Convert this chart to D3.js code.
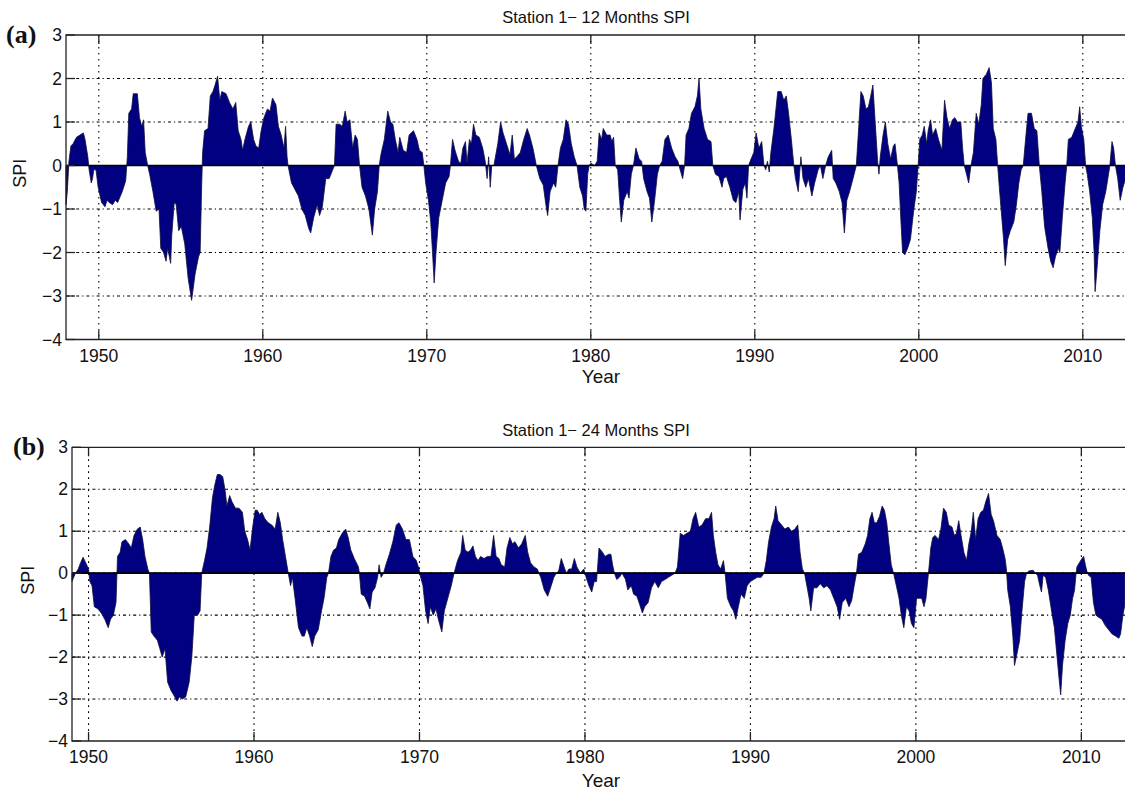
<!DOCTYPE html>
<html>
<head>
<meta charset="utf-8">
<script src="https://cdn.jsdelivr.net/npm/d3@7"></script>
<style>
  body { margin: 0; background: #fff; }
  svg { display: block; }
</style>
</head>
<body>
<svg id="chart" width="1125" height="790"></svg>
<script>
// Axis ticks shared by both panels
const yearTicks = [1950, 1960, 1970, 1980, 1990, 2000, 2010];
const spiTicks = [-4, -3, -2, -1, 0, 1, 2, 3];

// Station 1, 12-month SPI (decimal year, SPI value)
const spi12Year = [
  1948.00,1948.08,1948.18,1948.30,1948.43,1948.64,1948.85,1949.06,1949.16,1949.33,
  1949.41,1949.54,1949.62,1949.69,1949.83,1949.96,1950.17,1950.38,1950.50,1950.63,
  1950.84,1951.00,1951.15,1951.43,1951.64,1951.74,1951.83,1952.00,1952.10,1952.35,
  1952.48,1952.62,1952.73,1952.83,1952.98,1953.10,1953.30,1953.50,1953.67,1953.78,
  1953.95,1954.10,1954.20,1954.38,1954.45,1954.60,1954.72,1954.87,1955.03,1955.24,
  1955.45,1955.66,1955.87,1956.08,1956.18,1956.27,1956.33,1956.45,1956.66,1956.80,
  1956.96,1957.09,1957.24,1957.38,1957.50,1957.76,1957.97,1958.18,1958.35,1958.50,
  1958.67,1958.77,1958.91,1959.13,1959.27,1959.44,1959.58,1959.75,1959.90,1960.07,
  1960.28,1960.44,1960.59,1960.80,1960.95,1961.12,1961.29,1961.39,1961.48,1961.54,
  1961.75,1961.96,1962.17,1962.38,1962.59,1962.80,1962.92,1963.10,1963.32,1963.46,
  1963.63,1963.84,1964.05,1964.26,1964.37,1964.47,1964.68,1964.85,1965.02,1965.14,
  1965.31,1965.48,1965.63,1965.77,1965.90,1966.05,1966.26,1966.47,1966.68,1966.82,
  1966.99,1967.10,1967.20,1967.41,1967.62,1967.79,1967.93,1968.08,1968.25,1968.35,
  1968.56,1968.77,1968.92,1969.19,1969.40,1969.55,1969.72,1969.82,1969.93,1970.10,
  1970.24,1970.35,1970.45,1970.56,1970.73,1970.94,1971.15,1971.36,1971.44,1971.57,
  1971.72,1971.93,1972.07,1972.20,1972.36,1972.45,1972.60,1972.72,1972.85,1972.99,
  1973.20,1973.41,1973.56,1973.68,1973.77,1973.87,1973.96,1974.09,1974.33,1974.50,
  1974.65,1974.86,1975.07,1975.21,1975.34,1975.49,1975.70,1975.91,1976.12,1976.26,
  1976.47,1976.68,1976.89,1977.10,1977.26,1977.37,1977.52,1977.73,1977.86,1978.00,
  1978.15,1978.32,1978.49,1978.64,1978.81,1978.99,1979.16,1979.33,1979.50,1979.60,
  1979.70,1979.81,1979.90,1980.00,1980.24,1980.39,1980.51,1980.66,1980.76,1980.97,
  1981.18,1981.28,1981.39,1981.49,1981.64,1981.76,1981.86,1982.01,1982.22,1982.33,
  1982.47,1982.60,1982.75,1982.95,1983.10,1983.22,1983.43,1983.58,1983.72,1983.89,
  1984.06,1984.20,1984.35,1984.52,1984.72,1984.93,1985.14,1985.31,1985.45,1985.60,
  1985.72,1985.81,1985.98,1986.14,1986.35,1986.50,1986.60,1986.71,1986.91,1987.12,
  1987.33,1987.44,1987.60,1987.81,1988.00,1988.10,1988.27,1988.48,1988.69,1988.85,
  1989.02,1989.10,1989.27,1989.42,1989.52,1989.62,1989.77,1989.94,1990.08,1990.25,
  1990.42,1990.56,1990.67,1990.77,1990.88,1990.98,1991.15,1991.29,1991.40,1991.61,
  1991.77,1991.92,1992.06,1992.23,1992.38,1992.48,1992.65,1992.81,1992.94,1993.11,
  1993.27,1993.48,1993.65,1993.86,1994.00,1994.15,1994.32,1994.48,1994.69,1994.78,
  1994.94,1995.15,1995.32,1995.46,1995.61,1995.78,1995.99,1996.19,1996.34,1996.47,
  1996.61,1996.78,1996.93,1997.07,1997.20,1997.34,1997.49,1997.57,1997.65,1997.82,
  1997.96,1998.11,1998.28,1998.45,1998.55,1998.70,1998.80,1998.90,1999.01,1999.15,
  1999.32,1999.49,1999.70,1999.85,1999.96,2000.06,2000.21,2000.33,2000.48,2000.57,
  2000.72,2000.84,2001.03,2001.20,2001.41,2001.57,2001.72,2001.88,2002.05,2002.20,
  2002.35,2002.56,2002.67,2002.77,2002.91,2003.04,2003.18,2003.33,2003.50,2003.66,
  2003.81,2003.91,2004.12,2004.29,2004.43,2004.54,2004.70,2004.81,2004.91,2005.06,
  2005.17,2005.27,2005.42,2005.58,2005.79,2005.95,2006.10,2006.24,2006.37,2006.51,
  2006.66,2006.87,2007.04,2007.20,2007.35,2007.50,2007.67,2007.88,2008.04,2008.19,
  2008.33,2008.50,2008.60,2008.75,2008.92,2009.02,2009.12,2009.33,2009.54,2009.71,
  2009.81,2009.91,2010.06,2010.17,2010.27,2010.42,2010.58,2010.69,2010.75,2010.82,
  2010.90,2011.04,2011.21,2011.40,2011.57,2011.65,2011.78,2011.88,2011.99,2012.13,
  2012.28,2012.45,2012.61,2012.75
];
const spi12Value = [
  -0.9,-0.6,0.1,0.45,0.5,0.65,0.7,0.75,0.6,0.2,
  -0.1,-0.4,-0.3,-0.1,-0.1,-0.5,-0.85,-0.95,-0.8,-0.85,
  -0.9,-0.8,-0.85,-0.6,-0.35,0.2,1.2,1.3,1.65,1.65,
  1.1,0.9,1.05,0.3,0.0,-0.2,-0.6,-1.05,-1.0,-1.9,
  -2.0,-2.2,-1.9,-2.25,-1.6,-0.85,-0.9,-1.5,-1.4,-1.8,
  -2.6,-3.1,-2.5,-2.1,-2.0,-0.5,0.3,0.8,0.85,1.6,
  1.7,1.85,2.05,1.5,1.7,1.65,1.45,1.3,1.45,0.8,
  0.6,0.35,0.6,0.9,1.0,0.6,0.45,0.4,0.8,1.1,
  1.3,1.25,1.55,1.4,0.9,0.7,0.4,0.9,0.2,0.0,
  -0.4,-0.55,-0.7,-1.0,-1.15,-1.45,-1.55,-1.2,-0.9,-1.15,
  -0.95,-0.3,-0.3,-0.1,0.0,0.95,0.95,0.9,1.25,1.0,
  1.05,0.4,0.7,0.6,0.0,-0.5,-0.7,-1.0,-1.6,-1.0,
  -0.6,0.0,0.25,0.6,1.25,1.0,0.95,0.6,0.3,0.65,
  0.35,0.3,0.7,0.8,0.6,0.35,0.3,0.0,-0.4,-0.8,
  -1.3,-2.0,-2.7,-2.0,-1.2,-0.8,-0.4,-0.25,0.0,0.6,
  0.35,0.1,0.05,0.4,0.55,0.05,0.6,0.5,0.95,0.7,
  0.65,0.4,0.1,-0.3,0.2,-0.5,0.0,0.0,0.5,1.0,
  0.75,0.5,0.25,0.7,0.15,0.2,0.3,0.6,0.85,0.7,
  0.4,0.0,-0.3,-0.45,-0.9,-1.15,-0.6,-0.4,-0.5,0.0,
  0.4,0.6,1.05,0.95,0.5,0.2,0.0,-0.5,-0.7,-1.0,
  -1.05,-0.2,0.0,0.05,0.0,0.1,0.75,0.6,0.85,0.7,
  0.7,0.55,0.65,0.0,-0.1,-0.8,-1.3,-0.8,-0.6,-0.75,
  -0.2,0.0,0.4,0.15,0.1,-0.3,-0.6,-0.75,-1.3,-0.8,
  -0.2,0.0,0.1,0.6,0.7,0.4,0.2,0.1,-0.1,-0.3,
  0.0,0.7,0.85,1.2,1.35,1.6,2.0,1.3,0.85,0.6,
  0.55,0.0,-0.2,-0.25,-0.5,-0.3,-0.25,-0.5,-0.8,-0.85,
  -0.6,-1.25,-0.55,-0.4,-0.75,0.0,0.15,0.3,0.75,0.4,
  0.55,0.0,-0.1,0.1,-0.15,0.3,0.8,1.3,1.7,1.7,
  1.5,1.6,1.2,0.6,0.0,-0.3,-0.6,0.2,-0.3,-0.5,
  -0.3,-0.7,-0.4,-0.1,0.0,-0.3,0.0,0.2,0.35,-0.3,
  -0.4,-0.6,-0.85,-1.55,-0.8,-0.6,-0.3,0.0,0.9,1.7,
  1.6,1.3,1.35,1.6,1.85,1.0,0.1,-0.2,0.2,0.7,
  1.0,0.5,0.15,0.45,0.5,0.0,-0.4,-1.2,-2.0,-2.05,
  -1.9,-1.7,-1.0,-0.6,0.0,0.6,0.7,0.9,0.5,0.8,
  1.05,0.7,0.85,0.6,0.35,1.5,1.1,0.85,1.05,1.1,
  1.0,1.0,0.4,0.0,-0.2,-0.4,0.0,0.3,1.2,0.95,
  1.4,2.0,2.1,2.25,1.9,0.85,0.6,0.0,-0.5,-1.2,
  -1.7,-2.3,-1.7,-1.5,-1.3,-0.9,-0.4,-0.1,0.0,0.6,
  1.2,1.2,0.85,0.8,0.0,-0.6,-1.4,-1.9,-2.2,-2.35,
  -2.1,-1.9,-2.0,-1.2,-0.4,0.0,0.6,0.65,0.85,1.0,
  1.35,0.9,0.6,0.0,-0.2,-0.6,-1.2,-2.0,-2.9,-2.6,
  -2.2,-1.5,-0.9,-0.6,-0.2,0.0,0.55,0.4,0.0,-0.3,
  -0.8,-0.5,-0.3,-0.6
];

// Station 1, 24-month SPI (decimal year, SPI value)
const spi24Year = [
  1949.00,1949.10,1949.21,1949.38,1949.52,1949.67,1949.83,1950.00,1950.08,1950.21,
  1950.35,1950.56,1950.77,1950.98,1951.19,1951.33,1951.50,1951.66,1951.75,1951.91,
  1952.02,1952.23,1952.43,1952.58,1952.75,1952.95,1953.12,1953.27,1953.41,1953.58,
  1953.68,1953.79,1953.95,1954.16,1954.31,1954.45,1954.62,1954.78,1954.99,1955.14,
  1955.35,1955.49,1955.66,1955.87,1956.08,1956.24,1956.39,1956.59,1956.74,1956.84,
  1957.01,1957.16,1957.32,1957.49,1957.63,1957.78,1957.95,1958.11,1958.26,1958.36,
  1958.53,1958.67,1958.88,1959.09,1959.30,1959.44,1959.61,1959.76,1959.92,1960.07,
  1960.19,1960.34,1960.48,1960.65,1960.86,1961.07,1961.28,1961.44,1961.59,1961.73,
  1961.90,1962.07,1962.21,1962.32,1962.48,1962.69,1962.90,1963.04,1963.19,1963.36,
  1963.52,1963.67,1963.88,1964.08,1964.23,1964.40,1964.50,1964.65,1964.81,1964.98,
  1965.12,1965.33,1965.54,1965.69,1965.85,1966.06,1966.31,1966.37,1966.48,1966.68,
  1966.85,1967.00,1967.14,1967.31,1967.47,1967.56,1967.68,1967.83,1967.97,1968.18,
  1968.39,1968.60,1968.76,1968.97,1969.18,1969.39,1969.60,1969.81,1969.97,1970.04,
  1970.21,1970.37,1970.52,1970.66,1970.83,1971.00,1971.14,1971.35,1971.50,1971.71,
  1971.92,1972.09,1972.30,1972.51,1972.61,1972.76,1972.93,1973.09,1973.23,1973.38,
  1973.54,1973.69,1973.90,1974.11,1974.32,1974.48,1974.63,1974.80,1974.94,1975.15,
  1975.29,1975.46,1975.62,1975.77,1975.98,1976.18,1976.39,1976.54,1976.71,1976.92,
  1977.12,1977.22,1977.33,1977.54,1977.75,1977.96,1978.12,1978.27,1978.41,1978.57,
  1978.74,1978.88,1979.03,1979.20,1979.36,1979.51,1979.72,1979.93,1980.07,1980.24,
  1980.41,1980.56,1980.70,1980.85,1981.06,1981.22,1981.43,1981.57,1981.67,1981.78,
  1981.92,1982.08,1982.24,1982.45,1982.59,1982.80,1982.94,1983.14,1983.31,1983.47,
  1983.61,1983.82,1984.02,1984.22,1984.43,1984.63,1984.84,1985.04,1985.24,1985.45,
  1985.59,1985.76,1985.96,1986.16,1986.37,1986.53,1986.69,1986.88,1987.08,1987.29,
  1987.49,1987.65,1987.76,1987.90,1988.04,1988.20,1988.37,1988.47,1988.61,1988.82,
  1988.98,1989.12,1989.27,1989.43,1989.63,1989.80,1990.00,1990.20,1990.41,1990.65,
  1990.82,1990.96,1991.10,1991.27,1991.43,1991.53,1991.67,1991.88,1992.08,1992.29,
  1992.49,1992.69,1992.86,1993.00,1993.14,1993.27,1993.41,1993.55,1993.65,1993.82,
  1994.02,1994.22,1994.43,1994.63,1994.84,1995.04,1995.24,1995.39,1995.55,1995.76,
  1995.96,1996.12,1996.27,1996.41,1996.53,1996.73,1996.94,1997.08,1997.22,1997.35,
  1997.49,1997.63,1997.80,1997.96,1998.10,1998.24,1998.37,1998.51,1998.65,1998.82,
  1998.98,1999.12,1999.27,1999.43,1999.59,1999.73,1999.88,2000.04,2000.20,2000.35,
  2000.49,2000.61,2000.76,2000.90,2001.02,2001.16,2001.37,2001.51,2001.67,2001.84,
  2001.98,2002.18,2002.33,2002.45,2002.59,2002.73,2002.90,2003.06,2003.20,2003.35,
  2003.47,2003.61,2003.76,2003.92,2004.08,2004.22,2004.39,2004.55,2004.69,2004.90,
  2005.10,2005.24,2005.39,2005.47,2005.55,2005.71,2005.86,2005.96,2006.12,2006.27,
  2006.41,2006.57,2006.69,2006.82,2007.08,2007.22,2007.35,2007.49,2007.59,2007.69,
  2007.84,2008.00,2008.20,2008.37,2008.51,2008.65,2008.75,2008.86,2009.02,2009.18,
  2009.33,2009.47,2009.59,2009.67,2009.73,2009.88,2010.04,2010.14,2010.24,2010.33,
  2010.43,2010.59,2010.73,2010.88,2011.04,2011.24,2011.45,2011.65,2011.86,2012.06,
  2012.27,2012.37,2012.51,2012.63
];
const spi24Value = [
  -0.2,-0.1,0.0,0.1,0.25,0.38,0.25,0.1,-0.2,-0.3,
  -0.8,-0.85,-0.95,-1.1,-1.3,-1.1,-1.0,-0.7,0.4,0.5,
  0.75,0.8,0.7,0.6,0.9,1.05,1.1,0.8,0.4,0.1,
  0.0,-1.4,-1.5,-1.6,-1.8,-2.0,-1.8,-2.6,-2.8,-2.9,
  -3.05,-2.95,-3.0,-2.95,-2.6,-2.0,-1.0,-1.0,-0.9,0.0,
  0.3,0.6,1.1,1.8,2.1,2.35,2.35,2.3,1.95,1.6,
  1.85,1.7,1.55,1.55,1.45,1.0,0.8,0.55,1.1,1.5,
  1.5,1.4,1.45,1.3,1.2,1.15,1.05,1.45,1.2,0.8,
  0.4,0.0,-0.3,-0.1,-0.6,-1.3,-1.5,-1.5,-1.3,-1.5,
  -1.75,-1.5,-1.35,-0.9,-0.6,-0.1,0.0,0.4,0.55,0.6,
  0.8,0.95,1.05,0.85,0.55,0.35,0.15,0.0,-0.5,-0.55,
  -0.7,-0.85,-0.45,-0.35,-0.1,0.2,-0.1,0.0,0.2,0.45,
  0.75,1.15,1.2,1.05,0.8,0.8,0.4,0.3,0.1,-0.05,
  -0.3,-0.9,-1.2,-0.8,-1.0,-0.85,-1.1,-1.4,-0.9,-0.6,
  -0.3,0.0,0.3,0.5,0.9,0.55,0.5,0.55,0.65,0.4,
  0.3,0.4,0.35,0.4,0.4,0.9,0.4,0.35,0.2,0.15,
  0.6,0.85,0.7,0.75,0.6,0.7,0.9,0.5,0.25,0.15,
  0.1,0.0,-0.1,-0.4,-0.55,-0.3,-0.1,0.0,0.05,0.35,
  0.15,0.0,0.1,0.1,0.35,0.15,0.0,0.1,-0.1,-0.3,
  -0.45,-0.2,-0.2,0.6,0.5,0.4,0.45,0.45,0.2,0.0,
  -0.15,-0.1,0.0,-0.15,-0.4,-0.3,-0.5,-0.55,-0.75,-0.95,
  -0.8,-0.7,-0.35,-0.2,-0.35,-0.2,-0.15,-0.1,-0.05,0.0,
  0.15,0.95,0.9,0.95,1.0,1.3,1.45,1.1,1.15,1.3,
  1.3,1.45,0.9,0.5,0.2,0.1,0.3,0.0,-0.6,-0.8,
  -0.9,-1.1,-0.8,-0.5,-0.6,-0.3,-0.2,-0.15,-0.1,-0.1,
  0.0,0.3,0.75,1.1,1.3,1.6,1.25,1.15,1.05,1.1,
  1.0,1.05,1.15,0.5,0.1,0.0,-0.3,-0.6,-0.9,-0.35,
  -0.35,-0.25,-0.35,-0.3,-0.4,-0.6,-0.8,-1.1,-0.7,-0.6,
  -0.8,-0.65,-0.3,0.0,0.45,0.5,0.7,0.9,1.3,1.45,
  1.2,1.2,1.35,1.6,1.5,1.2,0.7,0.2,0.0,-0.3,
  -0.6,-1.0,-1.3,-0.8,-0.9,-1.2,-1.3,-0.6,-0.6,-0.6,
  -0.8,-0.6,0.0,0.6,0.85,0.9,0.8,1.05,1.55,1.45,
  1.15,1.1,0.9,0.95,1.25,0.9,0.5,0.3,0.7,1.0,
  1.45,0.8,1.3,1.45,1.5,1.7,1.9,1.4,1.25,0.9,
  0.8,0.6,0.35,0.1,-0.4,-0.8,-1.5,-2.2,-1.9,-1.6,
  -0.9,-0.2,0.0,0.05,0.07,0.0,-0.05,-0.3,-0.45,-0.05,
  -0.1,-0.4,-0.9,-1.3,-1.9,-2.5,-2.9,-2.2,-1.6,-1.2,
  -1.0,-0.6,-0.4,-0.05,0.15,0.25,0.35,0.4,0.2,0.05,
  -0.05,-0.1,-0.7,-1.0,-1.05,-1.1,-1.25,-1.35,-1.45,-1.5,
  -1.55,-1.45,-1.0,-0.75
];

const svg = d3.select("#chart");
const font = "'Liberation Sans', Arial, Helvetica, sans-serif";

const panels = [
  {
    title: "Station 1\u2212 12 Months SPI", tag: "(a)",
    years: spi12Year, values: spi12Value,
    xDomain: [1948, 2013], xRange: [66, 1132],
    yRange: [339.5, 35],
    titleY: 23, xLabelY: 383, yLabelX: 26, tagX: 6, tagY: 43
  },
  {
    title: "Station 1\u2212 24 Months SPI", tag: "(b)",
    years: spi24Year, values: spi24Value,
    xDomain: [1949, 2013], xRange: [72, 1131],
    yRange: [741, 447.3],
    titleY: 436, xLabelY: 787, yLabelX: 34, tagX: 13, tagY: 455
  }
];

panels.forEach(p => {
  const x = d3.scaleLinear().domain(p.xDomain).range(p.xRange);
  const y = d3.scaleLinear().domain([-4, 3]).range(p.yRange);
  const g = svg.append("g");
  const [x0, x1] = p.xRange;
  const [yb, yt] = p.yRange;

  // dotted grid
  g.append("g").selectAll("line").data(spiTicks.filter(v => v > -4 && v < 3)).join("line")
    .attr("x1", x0).attr("x2", x1).attr("y1", d => y(d)).attr("y2", d => y(d))
    .attr("stroke", "#000").attr("stroke-width", 1.1).attr("stroke-dasharray", "3,3,1.2,3");
  g.append("g").selectAll("line").data(yearTicks).join("line")
    .attr("x1", d => x(d)).attr("x2", d => x(d)).attr("y1", yt).attr("y2", yb)
    .attr("stroke", "#000").attr("stroke-width", 1.1).attr("stroke-dasharray", "1.6,4.4");

  // filled SPI series
  const pts = p.years.map((yr, i) => [yr, p.values[i]]);
  const area = d3.area().x(d => x(d[0])).y0(y(0)).y1(d => y(d[1]));
  g.append("path").datum(pts).attr("d", area)
    .attr("fill", "#000080").attr("stroke", "#10103a").attr("stroke-width", 0.8)
    .attr("stroke-linejoin", "round");

  // zero line
  g.append("line").attr("x1", x0).attr("x2", x1).attr("y1", y(0)).attr("y2", y(0))
    .attr("stroke", "#000").attr("stroke-width", 1.6);

  // axes box (left, top, bottom)
  g.append("path")
    .attr("d", `M${x1},${yt}H${x0}V${yb}H${x1}`)
    .attr("fill", "none").attr("stroke", "#222").attr("stroke-width", 1.3);

  // inward ticks
  const tl = 9;
  yearTicks.forEach(t => {
    g.append("line").attr("x1", x(t)).attr("x2", x(t)).attr("y1", yb).attr("y2", yb - tl)
      .attr("stroke", "#222").attr("stroke-width", 1.3);
    g.append("line").attr("x1", x(t)).attr("x2", x(t)).attr("y1", yt).attr("y2", yt + tl)
      .attr("stroke", "#222").attr("stroke-width", 1.3);
  });
  spiTicks.forEach(t => {
    g.append("line").attr("x1", x0).attr("x2", x0 + tl).attr("y1", y(t)).attr("y2", y(t))
      .attr("stroke", "#222").attr("stroke-width", 1.3);
  });

  // tick labels
  g.append("g").selectAll("text").data(yearTicks).join("text")
    .attr("x", d => x(d)).attr("y", yb + 22)
    .attr("text-anchor", "middle").attr("font-family", font).attr("font-size", 17.5)
    .attr("fill", "#111").text(d => d);
  g.append("g").selectAll("text").data(spiTicks).join("text")
    .attr("x", x0 - 4).attr("y", d => y(d) + 6)
    .attr("text-anchor", "end").attr("font-family", font).attr("font-size", 17.5)
    .attr("fill", "#111").text(d => d < 0 ? "\u2212" + Math.abs(d) : d);

  // titles and axis labels
  g.append("text").attr("x", 596).attr("y", p.titleY).attr("text-anchor", "middle")
    .attr("font-family", font).attr("font-size", 16.5).attr("fill", "#111").text(p.title);
  g.append("text").attr("x", 601).attr("y", p.xLabelY).attr("text-anchor", "middle")
    .attr("font-family", font).attr("font-size", 19).attr("fill", "#111").text("Year");
  g.append("text").attr("transform", `translate(${p.yLabelX},${(yt + yb) / 2 - 14}) rotate(-90)`)
    .attr("text-anchor", "middle").attr("font-family", font).attr("font-size", 18)
    .attr("fill", "#111").text("SPI");
  g.append("text").attr("x", p.tagX).attr("y", p.tagY)
    .attr("font-family", "'Liberation Serif', 'Times New Roman', serif")
    .attr("font-weight", "bold").attr("font-size", 26).attr("fill", "#111").text(p.tag);
});
</script>
</body>
</html>
